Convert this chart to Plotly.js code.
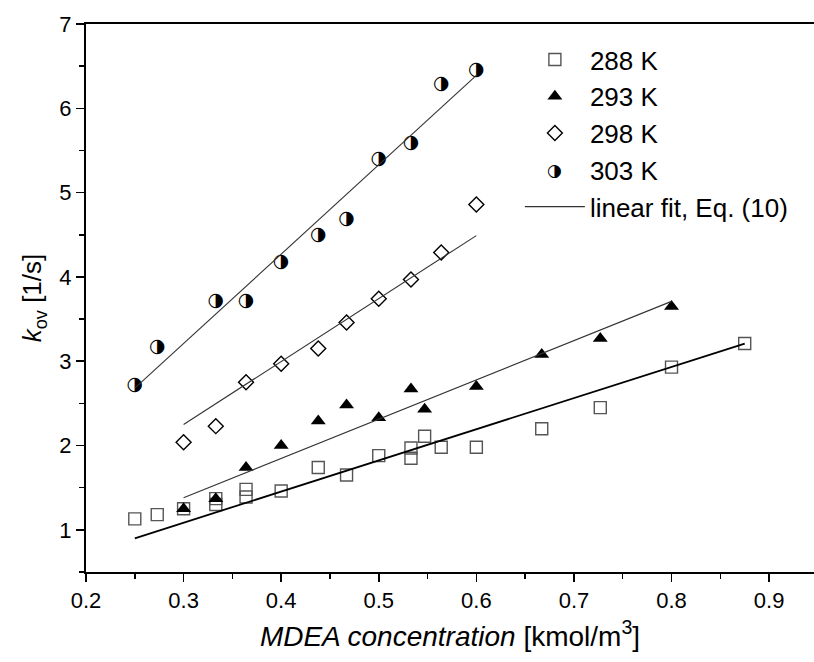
<!DOCTYPE html>
<html>
<head>
<meta charset="utf-8">
<script src="https://cdn.plot.ly/plotly-3.0.1.min.js"></script>
<style>html,body{margin:0;padding:0;background:#fff;}#chart{width:814px;height:662px;}</style>
</head>
<body>
<div id="chart"></div>
<script>
// MDEA concentration [kmol/m3] and k_ov [1/s] per temperature
var conc288 = [0.25,0.273,0.30,0.333,0.333,0.364,0.364,0.40,0.438,0.467,0.50,0.533,0.533,0.547,0.564,0.60,0.667,0.727,0.80,0.875];
var k288    = [1.13,1.18,1.25,1.37,1.30,1.48,1.39,1.46,1.74,1.65,1.88,1.97,1.85,2.11,1.98,1.98,2.20,2.45,2.93,3.21];

var conc293 = [0.30,0.333,0.364,0.40,0.438,0.467,0.50,0.533,0.547,0.60,0.667,0.727,0.80];
var k293    = [1.25,1.37,1.74,2.00,2.29,2.48,2.33,2.67,2.43,2.70,3.08,3.27,3.65];

var conc298 = [0.30,0.333,0.364,0.40,0.438,0.467,0.50,0.533,0.564,0.60];
var k298    = [2.04,2.23,2.75,2.97,3.15,3.46,3.74,3.97,4.29,4.86];

var conc303 = [0.25,0.273,0.333,0.364,0.40,0.438,0.467,0.50,0.533,0.564,0.60];
var k303    = [2.71,3.17,3.71,3.71,4.18,4.50,4.69,5.40,5.59,6.28,6.45];

// linear fit (Eq. 10) end points
var fitX288 = [0.25, 0.875], fitY288 = [0.90, 3.21];
var fitX293 = [0.30, 0.80],  fitY293 = [1.38, 3.71];
var fitX298 = [0.30, 0.60],  fitY298 = [2.25, 4.49];
var fitX303 = [0.25, 0.60],  fitY303 = [2.68, 6.39];

var seriesNames = ['288 K','293 K','298 K','303 K','linear fit, Eq. (10)'];
var xTickVals = [0.2,0.3,0.4,0.5,0.6,0.7,0.8,0.9];
var yTickVals = [1,2,3,4,5,6,7];
var halfCircle = '\u25D1';

var FONT = 'Liberation Sans, Arial, sans-serif';

var traces = [
  {x: conc288, y: k288, name: seriesNames[0], mode: 'markers', type: 'scatter',
   marker: {symbol: 'square-open', size: 12, color: '#555', line: {width: 1.4, color: '#555'}}},
  {x: conc293, y: k293, name: seriesNames[1], mode: 'markers', type: 'scatter',
   marker: {symbol: 'triangle-up', size: 13, color: '#000', line: {width: 0}}},
  {x: conc298, y: k298, name: seriesNames[2], mode: 'markers', type: 'scatter',
   marker: {symbol: 'diamond-open', size: 11.5, color: '#000', line: {width: 1.4, color: '#000'}}},
  // legend entry for 303 K (symbol drawn as text glyph below)
  {x: conc303, y: k303, name: seriesNames[3], mode: 'markers', type: 'scatter',
   marker: {symbol: 'circle', size: 12, color: 'rgba(0,0,0,0)', line: {width: 0}}},
  {x: conc303, y: k303, name: seriesNames[3], mode: 'text', type: 'scatter', showlegend: false,
   text: conc303.map(function(){return halfCircle;}), textposition: 'middle center',
   textfont: {family: 'DejaVu Sans', size: 19, color: '#000'}},
  {x: fitX288, y: fitY288, name: seriesNames[4], mode: 'lines', type: 'scatter', showlegend: false,
   line: {color: '#000', width: 1.8}},
  {x: fitX293, y: fitY293, name: seriesNames[4], mode: 'lines', type: 'scatter', showlegend: false,
   line: {color: '#333', width: 1.1}},
  {x: fitX298, y: fitY298, name: seriesNames[4], mode: 'lines', type: 'scatter', showlegend: false,
   line: {color: '#333', width: 1.1}},
  {x: fitX303, y: fitY303, name: seriesNames[4], mode: 'lines', type: 'scatter', showlegend: true,
   line: {color: '#333', width: 1.1}}
];

var layout = {
  width: 814, height: 662,
  margin: {l: 86, r: 0, t: 24, b: 90},
  paper_bgcolor: '#fff', plot_bgcolor: '#fff',
  font: {family: FONT, size: 22, color: '#000'},
  showlegend: true,
  legend: {x: 0.596, y: 0.978, xanchor: 'left', yanchor: 'top', bgcolor: 'rgba(0,0,0,0)',
           font: {family: FONT, size: 26, color: '#000'}, itemwidth: 60, tracegroupgap: 0},
  annotations: [
    {xref: 'paper', yref: 'paper', x: 0.6442, y: 0.7336, xanchor: 'center', yanchor: 'middle',
     text: halfCircle, showarrow: false, font: {family: 'DejaVu Sans', size: 17, color: '#000'}}
  ],
  xaxis: {
    range: [0.2, 0.946], tickvals: xTickVals, ticktext: xTickVals.map(function(v){return v.toFixed(1);}),
    ticks: 'outside', ticklen: 8, tickwidth: 1.5, tickcolor: '#000',
    showline: true, linewidth: 2, linecolor: '#000', mirror: true,
    showgrid: false, zeroline: false,
    minor: {dtick: 0.05, ticks: 'outside', ticklen: 5, tickwidth: 1.5, tickcolor: '#000', showgrid: false},
    tickfont: {family: FONT, size: 22},
    title: {text: '<i>MDEA concentration</i> [kmol/m<sup>3</sup>]', font: {family: FONT, size: 28}, standoff: 14}
  },
  yaxis: {
    range: [0.5, 7], tickvals: yTickVals,
    ticks: 'outside', ticklen: 8, tickwidth: 1.5, tickcolor: '#000',
    showline: true, linewidth: 2, linecolor: '#000', mirror: true,
    showgrid: false, zeroline: false,
    minor: {dtick: 0.5, ticks: 'outside', ticklen: 5, tickwidth: 1.5, tickcolor: '#000', showgrid: false},
    tickfont: {family: FONT, size: 22},
    title: {text: '<i>k</i><sub>ov</sub> [1/s]', font: {family: FONT, size: 26}, standoff: 10}
  }
};

Plotly.newPlot('chart', traces, layout, {displayModeBar: false, staticPlot: true});
</script>
</body>
</html>
